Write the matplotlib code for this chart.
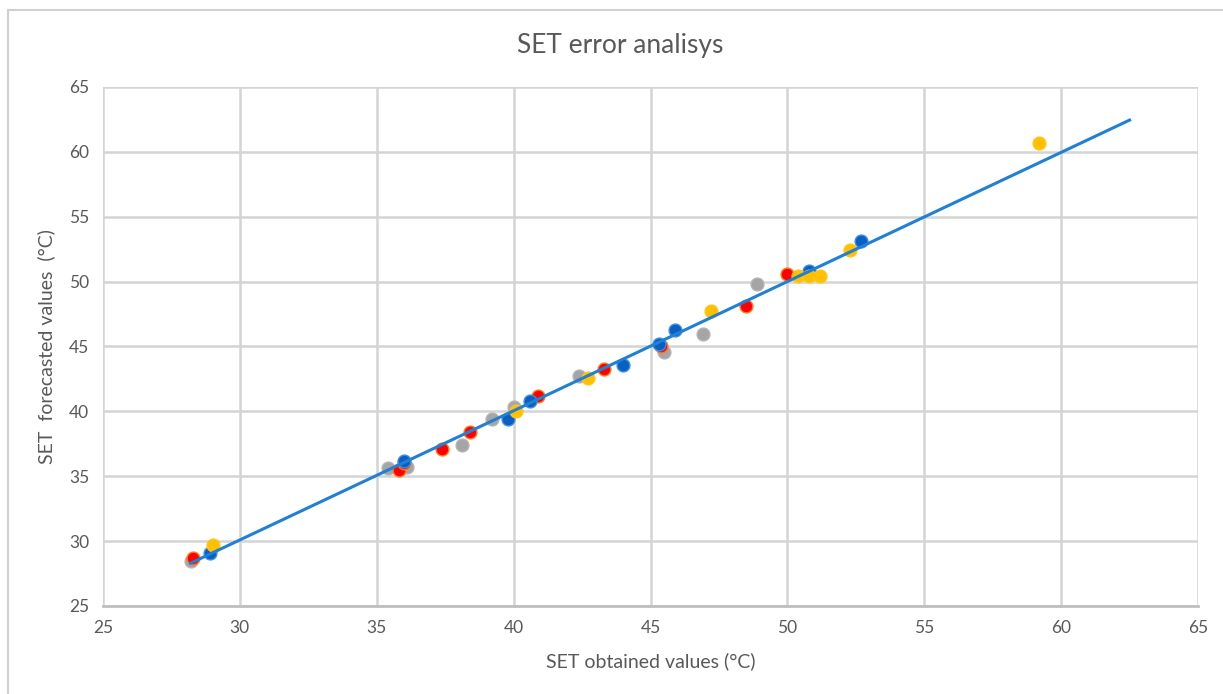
import matplotlib
matplotlib.use("Agg")
import matplotlib.pyplot as plt
import numpy as np

plt.rcParams['font.family'] = ['Lato', 'DejaVu Sans']

# obtained (x) vs forecasted (y) SET values, one list pair per series
gray_x = [28.2, 35.4, 36.1, 38.1, 39.2, 40.0, 42.4, 45.5, 46.9, 48.9]
gray_y = [28.5, 35.6, 35.7, 37.4, 39.4, 40.3, 42.7, 44.6, 46.0, 49.8]

red_x = [28.3, 35.8, 36.0, 37.4, 38.4, 40.9, 43.3, 45.4, 48.5, 50.0]
red_y = [28.7, 35.5, 36.0, 37.1, 38.4, 41.2, 43.3, 45.0, 48.1, 50.6]

blue_x = [28.9, 36.0, 39.8, 40.6, 44.0, 45.3, 45.9, 50.8, 52.7]
blue_y = [29.1, 36.2, 39.4, 40.8, 43.6, 45.2, 46.3, 50.8, 53.1]

yellow_x = [29.0, 40.1, 42.7, 47.2, 50.4, 50.8, 51.2, 52.3, 59.2]
yellow_y = [29.7, 40.0, 42.6, 47.7, 50.4, 50.4, 50.4, 52.4, 60.7]

# trend line end points
trend_x = [28.2, 62.5]
trend_y = [28.3, 62.45]

ticks = [25, 30, 35, 40, 45, 50, 55, 60, 65]

fig = plt.figure(figsize=(12.23, 6.94), dpi=100)
ax = fig.add_axes([103 / 1223, 1 - 606 / 694, 1095 / 1223, 519 / 694])

# chart border (only left/top visible in the crop)
fig.add_artist(plt.Line2D([8 / 1223, 8 / 1223], [0, 1 - 10 / 694], color='#d0d0d0', lw=1.5))
fig.add_artist(plt.Line2D([8 / 1223, 1], [1 - 10 / 694, 1 - 10 / 694], color='#d0d0d0', lw=1.5))

ms = 85
ax.scatter(gray_x, gray_y, s=ms, color='#a5a5a5', edgecolors='#b4b4b4', linewidths=1, zorder=3)
ax.scatter(red_x, red_y, s=ms, color='#ff0000', edgecolors='#ff7a1a', linewidths=1, zorder=3)
ax.scatter(blue_x, blue_y, s=ms, color='#0a5fc4', edgecolors='#3d8fe0', linewidths=1, zorder=3)
ax.scatter(yellow_x, yellow_y, s=ms, color='#ffc000', edgecolors='#ffc61a', linewidths=1, zorder=3)

ax.plot(trend_x, trend_y, color='#1f80d4', lw=2.2, zorder=4)

ax.set_xlim(25, 65)
ax.set_ylim(25, 65)
ax.set_xticks(ticks)
ax.set_yticks(ticks)
ax.grid(True, color='#d4d4d4', lw=1.8)
ax.set_axisbelow(True)
for s in ax.spines.values():
    s.set_visible(False)
ax.spines['bottom'].set_visible(True)
ax.spines['bottom'].set_color('#bfbfbf')
ax.spines['bottom'].set_linewidth(2)
ax.tick_params(length=0, labelsize=12.5, colors='#595959', pad=10)

ax.set_xlabel('SET obtained values (°C)', fontsize=14, color='#595959', labelpad=12)
ax.set_ylabel('SET  forecasted values  (°C)', fontsize=14, color='#595959', labelpad=10)
fig.text(0.507, 1 - 45 / 694, 'SET error analisys', ha='center', va='center',
         fontsize=19, color='#595959')

fig.savefig('out.png', dpi=100, facecolor='white')
